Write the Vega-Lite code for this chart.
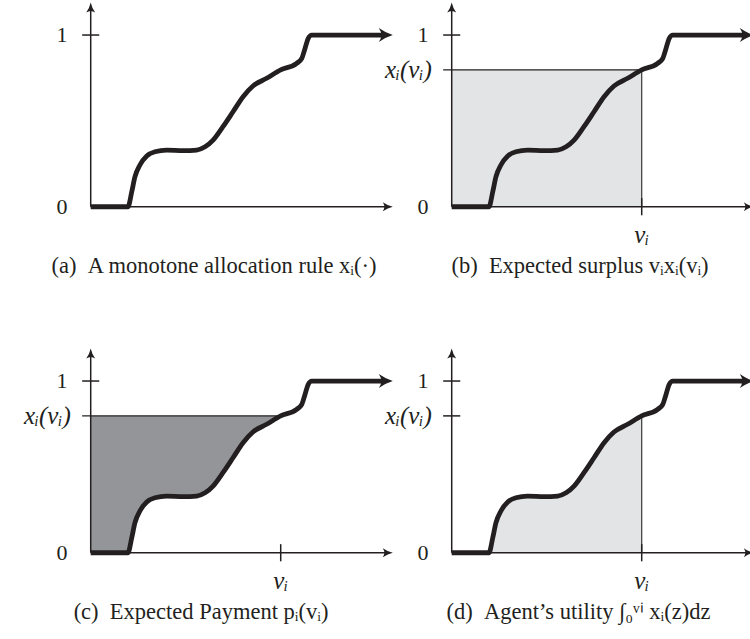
{
  "$schema": "https://vega.github.io/schema/vega-lite/v6.json",
  "padding": 0,
  "columns": 2,
  "spacing": 0,
  "bounds": "flush",
  "config": {"view": {"stroke": null}},
  "datasets": {
    "curve": [
      {"x": 0, "y": 0}, {"x": 0.196, "y": 0}, {"x": 0.216, "y": 0.087}, {"x": 0.233, "y": 0.175},
      {"x": 0.259, "y": 0.243}, {"x": 0.295, "y": 0.295}, {"x": 0.338, "y": 0.32}, {"x": 0.4, "y": 0.33},
      {"x": 0.487, "y": 0.327}, {"x": 0.558, "y": 0.33}, {"x": 0.602, "y": 0.349}, {"x": 0.644, "y": 0.388},
      {"x": 0.696, "y": 0.466}, {"x": 0.749, "y": 0.553}, {"x": 0.802, "y": 0.641}, {"x": 0.854, "y": 0.703},
      {"x": 0.926, "y": 0.748}, {"x": 1.0, "y": 0.797}, {"x": 1.084, "y": 0.835}, {"x": 1.111, "y": 0.864},
      {"x": 1.128, "y": 0.922}, {"x": 1.145, "y": 0.981}, {"x": 1.163, "y": 1.0}, {"x": 1.55, "y": 1.0}
    ],
    "axes": [
      {"x": 0, "y": 0, "x2": 1.57, "y2": 0},
      {"x": 0, "y": 0, "x2": 0, "y2": 1.17},
      {"x": -0.045, "y": 1, "x2": 0.045, "y2": 1}
    ],
    "arrows": [{"x": 1.59, "y": 0, "dir": "right"}, {"x": 0, "y": 1.19, "dir": "up"}],
    "curveArrow": [{"x": 1.59, "y": 1}],
    "digits": [{"x": -0.151, "y": 0, "text": "0"}, {"x": -0.151, "y": 1, "text": "1"}],
    "xlabel": [{"x": -0.105, "y": 0.797, "text": "xᵢ(vᵢ)"}],
    "vlabel": [{"x": 1, "y": -0.165, "text": "vᵢ"}]
  },
  "concat": [
    {
      "width": 361, "height": 346,
      "title": {"text": "(a)\u2002A monotone allocation rule xᵢ(·)", "orient": "bottom", "frame": "group", "anchor": "middle", "baseline": "middle", "offset": -80, "dx": 33.5, "font": "Liberation Serif", "fontSize": 22.5, "fontWeight": "normal", "color": "#231f20"},
      "encoding": {
        "x": {"field": "x", "type": "quantitative", "scale": {"domain": [-0.4774, 1.4226], "nice": false, "zero": false}, "axis": null},
        "y": {"field": "y", "type": "quantitative", "scale": {"domain": [-0.8111, 1.204], "nice": false, "zero": false}, "axis": null}
      },
      "layer": [
        {"data": {"name": "axes"}, "mark": {"type": "rule", "color": "#231f20", "strokeWidth": 1.5}, "encoding": {"x2": {"field": "x2"}, "y2": {"field": "y2"}}},
        {"data": {"name": "curve"}, "mark": {"type": "line", "interpolate": "monotone", "color": "#231f20", "strokeWidth": 4.8, "strokeJoin": "round"}, "encoding": {"order": {"field": "x"}}},
        {"data": {"name": "arrows"}, "mark": {"type": "point", "filled": true, "opacity": 1, "color": "#231f20", "size": 400}, "encoding": {"shape": {"field": "dir", "type": "nominal", "legend": null, "scale": {"domain": ["right", "up"], "range": ["M 0 0 Q -0.5 -0.1 -1 -0.45 Q -0.7 0 -1 0.45 Q -0.5 0.1 0 0 Z", "M 0 0 Q -0.1 0.5 -0.45 1 Q 0 0.7 0.45 1 Q 0.1 0.5 0 0 Z"]}}}},
        {"data": {"name": "curveArrow"}, "mark": {"type": "point", "filled": true, "opacity": 1, "color": "#231f20", "size": 784, "shape": "M 0 0 Q -0.5 -0.15 -1 -0.5 Q -0.65 0 -1 0.5 Q -0.5 0.15 0 0 Z"}},
        {"data": {"name": "digits"}, "mark": {"type": "text", "font": "Liberation Serif", "fontSize": 22, "align": "center", "baseline": "middle", "color": "#231f20"}, "encoding": {"text": {"field": "text"}}}
      ]
    },
    {
      "width": 361, "height": 346,
      "title": {"text": "(b)\u2002Expected surplus vᵢxᵢ(vᵢ)", "orient": "bottom", "frame": "group", "anchor": "middle", "baseline": "middle", "offset": -80, "dx": 38.5, "font": "Liberation Serif", "fontSize": 22.5, "fontWeight": "normal", "color": "#231f20"},
      "encoding": {
        "x": {"field": "x", "type": "quantitative", "scale": {"domain": [-0.4774, 1.4226], "nice": false, "zero": false}, "axis": null},
        "y": {"field": "y", "type": "quantitative", "scale": {"domain": [-0.8111, 1.204], "nice": false, "zero": false}, "axis": null}
      },
      "layer": [
        {"data": {"values": [{"x": 0, "y": 0, "x2": 1, "y2": 0.797}]}, "mark": {"type": "rect", "color": "#e3e4e6"}, "encoding": {"x2": {"field": "x2"}, "y2": {"field": "y2"}}},
        {"data": {"values": [{"x": 1, "y": 0, "x2": 1, "y2": 0.797}]}, "mark": {"type": "rule", "color": "#3a3839", "strokeWidth": 1.2}, "encoding": {"x2": {"field": "x2"}, "y2": {"field": "y2"}}},
        {"data": {"values": [{"x": -0.045, "y": 0.797, "x2": 1, "y2": 0.797}]}, "mark": {"type": "rule", "color": "#231f20", "strokeWidth": 1.4}, "encoding": {"x2": {"field": "x2"}, "y2": {"field": "y2"}}},
        {"data": {"name": "axes"}, "mark": {"type": "rule", "color": "#231f20", "strokeWidth": 1.5}, "encoding": {"x2": {"field": "x2"}, "y2": {"field": "y2"}}},
        {"data": {"values": [{"x": 1, "y": -0.05, "x2": 1, "y2": 0.05}]}, "mark": {"type": "rule", "color": "#231f20", "strokeWidth": 1.5}, "encoding": {"x2": {"field": "x2"}, "y2": {"field": "y2"}}},
        {"data": {"name": "curve"}, "mark": {"type": "line", "interpolate": "monotone", "color": "#231f20", "strokeWidth": 4.8, "strokeJoin": "round"}, "encoding": {"order": {"field": "x"}}},
        {"data": {"name": "arrows"}, "mark": {"type": "point", "filled": true, "opacity": 1, "color": "#231f20", "size": 400}, "encoding": {"shape": {"field": "dir", "type": "nominal", "legend": null, "scale": {"domain": ["right", "up"], "range": ["M 0 0 Q -0.5 -0.1 -1 -0.45 Q -0.7 0 -1 0.45 Q -0.5 0.1 0 0 Z", "M 0 0 Q -0.1 0.5 -0.45 1 Q 0 0.7 0.45 1 Q 0.1 0.5 0 0 Z"]}}}},
        {"data": {"name": "curveArrow"}, "mark": {"type": "point", "filled": true, "opacity": 1, "color": "#231f20", "size": 784, "shape": "M 0 0 Q -0.5 -0.15 -1 -0.5 Q -0.65 0 -1 0.5 Q -0.5 0.15 0 0 Z"}},
        {"data": {"name": "digits"}, "mark": {"type": "text", "font": "Liberation Serif", "fontSize": 22, "align": "center", "baseline": "middle", "color": "#231f20"}, "encoding": {"text": {"field": "text"}}},
        {"data": {"name": "xlabel"}, "mark": {"type": "text", "font": "Liberation Serif", "fontSize": 25, "fontStyle": "italic", "align": "right", "baseline": "middle", "color": "#231f20"}, "encoding": {"text": {"field": "text"}}},
        {"data": {"name": "vlabel"}, "mark": {"type": "text", "font": "Liberation Serif", "fontSize": 25, "fontStyle": "italic", "align": "center", "baseline": "middle", "color": "#231f20"}, "encoding": {"text": {"field": "text"}}}
      ]
    },
    {
      "width": 361, "height": 346,
      "title": {"text": "(c)\u2002Expected Payment pᵢ(vᵢ)", "orient": "bottom", "frame": "group", "anchor": "middle", "baseline": "middle", "offset": -80, "dx": 20.5, "font": "Liberation Serif", "fontSize": 22.5, "fontWeight": "normal", "color": "#231f20"},
      "encoding": {
        "x": {"field": "x", "type": "quantitative", "scale": {"domain": [-0.4774, 1.4226], "nice": false, "zero": false}, "axis": null},
        "y": {"field": "y", "type": "quantitative", "scale": {"domain": [-0.8111, 1.204], "nice": false, "zero": false}, "axis": null}
      },
      "layer": [
        {"data": {"name": "curve"}, "transform": [{"filter": "datum.x <= 1.0"}], "mark": {"type": "area", "interpolate": "monotone", "color": "#939598", "opacity": 1}, "encoding": {"y2": {"datum": 0.797}}},
        {"data": {"values": [{"x": -0.045, "y": 0.797, "x2": 1, "y2": 0.797}]}, "mark": {"type": "rule", "color": "#231f20", "strokeWidth": 1.4}, "encoding": {"x2": {"field": "x2"}, "y2": {"field": "y2"}}},
        {"data": {"name": "axes"}, "mark": {"type": "rule", "color": "#231f20", "strokeWidth": 1.5}, "encoding": {"x2": {"field": "x2"}, "y2": {"field": "y2"}}},
        {"data": {"values": [{"x": 1, "y": -0.05, "x2": 1, "y2": 0.05}]}, "mark": {"type": "rule", "color": "#231f20", "strokeWidth": 1.5}, "encoding": {"x2": {"field": "x2"}, "y2": {"field": "y2"}}},
        {"data": {"name": "curve"}, "mark": {"type": "line", "interpolate": "monotone", "color": "#231f20", "strokeWidth": 4.8, "strokeJoin": "round"}, "encoding": {"order": {"field": "x"}}},
        {"data": {"name": "arrows"}, "mark": {"type": "point", "filled": true, "opacity": 1, "color": "#231f20", "size": 400}, "encoding": {"shape": {"field": "dir", "type": "nominal", "legend": null, "scale": {"domain": ["right", "up"], "range": ["M 0 0 Q -0.5 -0.1 -1 -0.45 Q -0.7 0 -1 0.45 Q -0.5 0.1 0 0 Z", "M 0 0 Q -0.1 0.5 -0.45 1 Q 0 0.7 0.45 1 Q 0.1 0.5 0 0 Z"]}}}},
        {"data": {"name": "curveArrow"}, "mark": {"type": "point", "filled": true, "opacity": 1, "color": "#231f20", "size": 784, "shape": "M 0 0 Q -0.5 -0.15 -1 -0.5 Q -0.65 0 -1 0.5 Q -0.5 0.15 0 0 Z"}},
        {"data": {"name": "digits"}, "mark": {"type": "text", "font": "Liberation Serif", "fontSize": 22, "align": "center", "baseline": "middle", "color": "#231f20"}, "encoding": {"text": {"field": "text"}}},
        {"data": {"name": "xlabel"}, "mark": {"type": "text", "font": "Liberation Serif", "fontSize": 25, "fontStyle": "italic", "align": "right", "baseline": "middle", "color": "#231f20"}, "encoding": {"text": {"field": "text"}}},
        {"data": {"name": "vlabel"}, "mark": {"type": "text", "font": "Liberation Serif", "fontSize": 25, "fontStyle": "italic", "align": "center", "baseline": "middle", "color": "#231f20"}, "encoding": {"text": {"field": "text"}}}
      ]
    },
    {
      "width": 361, "height": 346,
      "title": {"text": "(d)\u2002Agent’s utility ∫₀ᵛⁱ xᵢ(z)dz", "orient": "bottom", "frame": "group", "anchor": "middle", "baseline": "middle", "offset": -80, "dx": 37, "font": "Liberation Serif", "fontSize": 22.5, "fontWeight": "normal", "color": "#231f20"},
      "encoding": {
        "x": {"field": "x", "type": "quantitative", "scale": {"domain": [-0.4774, 1.4226], "nice": false, "zero": false}, "axis": null},
        "y": {"field": "y", "type": "quantitative", "scale": {"domain": [-0.8111, 1.204], "nice": false, "zero": false}, "axis": null}
      },
      "layer": [
        {"data": {"name": "curve"}, "transform": [{"filter": "datum.x <= 1.0"}], "mark": {"type": "area", "interpolate": "monotone", "color": "#e3e4e6", "opacity": 1}},
        {"data": {"values": [{"x": 1, "y": 0, "x2": 1, "y2": 0.797}]}, "mark": {"type": "rule", "color": "#3a3839", "strokeWidth": 1.2}, "encoding": {"x2": {"field": "x2"}, "y2": {"field": "y2"}}},
        {"data": {"name": "axes"}, "mark": {"type": "rule", "color": "#231f20", "strokeWidth": 1.5}, "encoding": {"x2": {"field": "x2"}, "y2": {"field": "y2"}}},
        {"data": {"values": [{"x": 1, "y": -0.05, "x2": 1, "y2": 0.05}, {"x": -0.045, "y": 0.797, "x2": 0.045, "y2": 0.797}]}, "mark": {"type": "rule", "color": "#231f20", "strokeWidth": 1.5}, "encoding": {"x2": {"field": "x2"}, "y2": {"field": "y2"}}},
        {"data": {"name": "curve"}, "mark": {"type": "line", "interpolate": "monotone", "color": "#231f20", "strokeWidth": 4.8, "strokeJoin": "round"}, "encoding": {"order": {"field": "x"}}},
        {"data": {"name": "arrows"}, "mark": {"type": "point", "filled": true, "opacity": 1, "color": "#231f20", "size": 400}, "encoding": {"shape": {"field": "dir", "type": "nominal", "legend": null, "scale": {"domain": ["right", "up"], "range": ["M 0 0 Q -0.5 -0.1 -1 -0.45 Q -0.7 0 -1 0.45 Q -0.5 0.1 0 0 Z", "M 0 0 Q -0.1 0.5 -0.45 1 Q 0 0.7 0.45 1 Q 0.1 0.5 0 0 Z"]}}}},
        {"data": {"name": "curveArrow"}, "mark": {"type": "point", "filled": true, "opacity": 1, "color": "#231f20", "size": 784, "shape": "M 0 0 Q -0.5 -0.15 -1 -0.5 Q -0.65 0 -1 0.5 Q -0.5 0.15 0 0 Z"}},
        {"data": {"name": "digits"}, "mark": {"type": "text", "font": "Liberation Serif", "fontSize": 22, "align": "center", "baseline": "middle", "color": "#231f20"}, "encoding": {"text": {"field": "text"}}},
        {"data": {"name": "xlabel"}, "mark": {"type": "text", "font": "Liberation Serif", "fontSize": 25, "fontStyle": "italic", "align": "right", "baseline": "middle", "color": "#231f20"}, "encoding": {"text": {"field": "text"}}},
        {"data": {"name": "vlabel"}, "mark": {"type": "text", "font": "Liberation Serif", "fontSize": 25, "fontStyle": "italic", "align": "center", "baseline": "middle", "color": "#231f20"}, "encoding": {"text": {"field": "text"}}}
      ]
    }
  ]
}
